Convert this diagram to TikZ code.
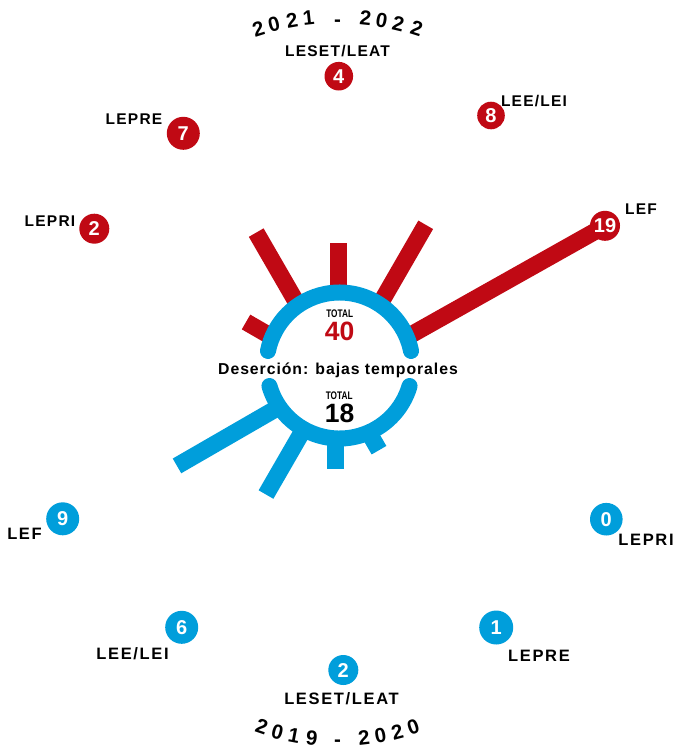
\documentclass[tikz,border=0pt]{standalone}
\usepackage{fontspec}
\setmainfont{Liberation Sans}
\newfontfamily\labfontR{Liberation Sans}[LetterSpace=8]
\newfontfamily\labfontB{Liberation Sans}[LetterSpace=10]
\newfontfamily\desfont{Liberation Sans}[LetterSpace=6]
\usetikzlibrary{calc}
\definecolor{dred}{RGB}{192,9,20}
\definecolor{dblue}{RGB}{0,158,219}
\tikzset{
 redspoke/.style={draw=dred, line width=17pt},
 bluespoke/.style={draw=dblue, line width=17pt},
 ring/.style={draw=dblue, line width=16pt, line cap=round},
 badge/.style={circle, inner sep=0pt, text=white, font=\bfseries\fontsize{20}{20}\selectfont, text height=14.3pt, text depth=0pt},
 redbadge/.style={badge, fill=dred},
 bluebadge/.style={badge, fill=dblue},
 labR/.style={inner sep=0pt, font=\labfontR\bfseries\fontsize{15.5}{16}\selectfont, text height=11.1pt, text depth=0pt},
 labB/.style={inner sep=0pt, font=\labfontB\bfseries\fontsize{16.5}{17}\selectfont, text height=11.8pt, text depth=0pt},
 yr/.style={inner sep=0pt, font=\bfseries\fontsize{20.5}{21}\selectfont, text height=14.7pt, text depth=0pt},
 tot/.style={anchor=base, inner sep=0pt, font=\bfseries\fontsize{11}{11}\selectfont, text height=7.9pt, text depth=0pt},
 big/.style={anchor=base, inner sep=0pt, font=\bfseries\fontsize{26.5}{26.5}\selectfont, text height=19pt, text depth=0pt},
}
\begin{document}
\begin{tikzpicture}[x=1pt,y=1pt]
\useasboundingbox (0,0) rectangle (674,-752);
\fill[white] (0,0) rectangle (674,-752);
\coordinate (C) at (339.5,-365.5);
\coordinate (R) at (338.7,-375.5);
\coordinate (B) at (335.3,-374.5);
\coordinate (p19) at (605,-225.8);

% red spokes (2021-2022)
\draw[redspoke] ($(R)!78pt!(p19)$) -- (p19);
\draw[redspoke] ($(R)+(60:78)$) -- ($(R)+(60:174)$);
\draw[redspoke] ($(R)+(90:78)$) -- ($(R)+(90:132.5)$);
\draw[redspoke] ($(R)+(120:78)$) -- ($(R)+(120:165)$);
\draw[redspoke] ($(R)+(150:78)$) -- ($(R)+(150:107)$);

% blue spokes (2019-2020)
\draw[bluespoke] ($(B)+(210:65)$) -- ($(B)+(210:182.8)$);
\draw[bluespoke] ($(B)+(240:65)$) -- ($(B)+(240:138.6)$);
\draw[bluespoke] ($(B)+(270:65)$) -- ($(B)+(270:94.8)$);
\draw[bluespoke] ($(B)+(300:65)$) -- ($(B)+(300:87.4)$);

% ring
\draw[ring] ($(C)+(11.5:73)$) arc[start angle=11.5, end angle=168.5, radius=73];
\draw[ring] ($(C)+(196.3:73)$) arc[start angle=196.3, end angle=343.7, radius=73];

% badges
\node[redbadge, minimum size=28.6pt] (r4) at (338.8,-76.2) {4};
\node[redbadge, minimum size=27.6pt] (r8) at (491,-115.5) {8};
\node[redbadge, minimum size=33pt] (r7) at (183.3,-133.3) {7};
\node[redbadge, minimum size=30pt] (r2) at (94.3,-228.7) {2};
\node[redbadge, minimum size=30pt] (r19) at (p19) {19};
\node[bluebadge, minimum size=33pt] (b9) at (62.7,-518.8) {9};
\node[bluebadge, minimum size=33pt] (b6) at (181.7,-627.3) {6};
\node[bluebadge, minimum size=30pt] (b2) at (343.3,-670) {2};
\node[bluebadge, minimum size=34pt] (b1) at (496.2,-627.5) {1};
\node[bluebadge, minimum size=32.6pt] (b0) at (606.3,-519.2) {0};

% labels
\node[labR] (lr4) at (337.5,-50.8) {LESET/LEAT};
\node[labR] (lr8) at (534,-101) {LEE/LEI};
\node[labR] (lr7) at (134,-119) {LEPRE};
\node[labR] (lr2) at (50,-221) {LEPRI};
\node[labR] (lr19) at (641,-208.5) {LEF};
\node[labB] (lb9) at (24.5,-533.5) {LEF};
\node[labB] (lb6) at (132.5,-653.5) {LEE/LEI};
\node[labB] (lb2) at (341.5,-699) {LESET/LEAT};
\node[labB] (lb1) at (539,-655.5) {LEPRE};
\node[labB] (lb0) at (646,-540) {LEPRI};

% centre texts
\node[anchor=base, inner sep=0pt, font=\desfont\bfseries\fontsize{15.8}{16}\selectfont] (des) at (338,-374) {Deserción: bajas temporales};
\node[tot] (tt1) at (339.7,-317.8) {\scalebox{0.75}[1]{TOTAL}};
\node[big, text=dred] (n40) at (339.5,-340.5) {40};
\node[tot] (tt2) at (339.2,-399.5) {\scalebox{0.75}[1]{TOTAL}};
\node[big] (n18) at (339.5,-422) {18};

% years on arcs
\foreach \ch/\t/\s [count=\i] in {2/17.4/0, 0/13.9/0, 2/9.9/0, 1/6.3/0, -/0/-3, 2/-6.1/0, 0/-9.6/0, 2/-13.3/0, 2/-17.4/0}
  \node[yr, rotate=\t, yshift=\s] (ya\i) at ($(337.5,-281.4)+({90+\t}:265)$) {\ch};
\foreach \ch/\t [count=\i] in {2/18.9, 0/14.9, 1/10.7, 9/6.3, -/0, 2/-6.5, 0/-10.6, 2/-14.8, 0/-18.9}
  \node[yr, rotate={-1*(\t)}] (yb\i) at ($(337.5,-505.6)+({270-(\t)}:233.7)$) {\ch};
\end{tikzpicture}
\end{document}
